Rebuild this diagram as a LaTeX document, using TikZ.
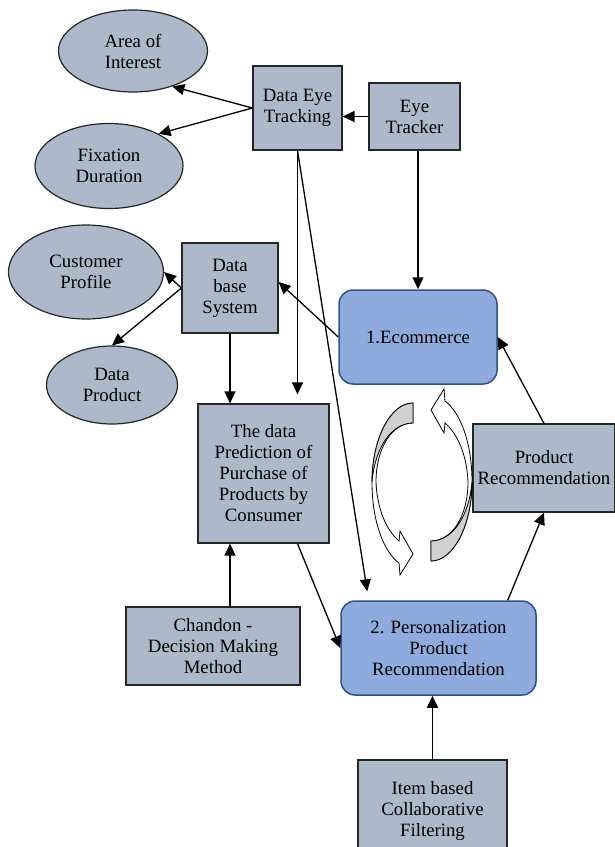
\documentclass[tikz,border=0pt]{standalone}
\usepackage{fontspec}
\setmainfont{Liberation Serif}
\usetikzlibrary{shapes.geometric,arrows.meta}

\definecolor{slate}{RGB}{173,185,202}
\definecolor{cornflower}{RGB}{143,170,220}
\definecolor{navyline}{RGB}{47,82,143}
\definecolor{ribbon}{RGB}{208,208,208}

\begin{document}
\begin{tikzpicture} [x=1pt, y=-1pt, line width=1.2pt,
        every node/.style={font=\fontsize{18.8}{21}\selectfont, align=center, inner sep=0pt},
        box/.style={shape=rectangle, draw=black!85, fill=slate},
        oval/.style={shape=ellipse, draw=black!85, fill=slate},
        bluebox/.style={shape=rectangle, rounded corners=14pt, draw=navyline, fill=cornflower, line width=1.5pt},
        arr/.style={-{Triangle[length=12pt, width=11pt]}, line width=1.3pt}]
        \useasboundingbox (0, 0) rectangle (614, 847);
        \node [oval, minimum width=149pt, minimum height=82pt] (interest) at (133, 51) {Area of\\Interest};
        \node [oval, minimum width=148pt, minimum height=85pt] (fixation) at (109, 166) {Fixation\\Duration};
        \node [oval, minimum width=155pt, minimum height=94pt] (profile) at (86, 272) {Customer\\Profile};
        \node [oval, minimum width=131pt, minimum height=78pt] (dproduct) at (112, 385) {Data\\Product};
        \node [box, minimum width=89pt, minimum height=84pt] (eyedata) at (297.5, 108) {Data Eye\\Tracking};
        \node [box, minimum width=91pt, minimum height=67pt] (tracker) at (414.5, 116.5) {Eye\\Tracker};
        \node [box, minimum width=96pt, minimum height=90pt] (dbase) at (230, 288) {Data\\base\\System};
        \node [bluebox, minimum width=158pt, minimum height=94pt] (ecom) at (418, 337) {1.Ecommerce};
        \node [box, minimum width=131pt, minimum height=139pt] (predict) at (263.5, 473.5) {The data\\Prediction of\\Purchase of\\Products by\\Consumer};
        \node [box, minimum width=142pt, minimum height=88pt] (prodrec) at (544, 468) {Product\\Recommendation};
        \node [box, minimum width=174pt, minimum height=78pt] (chandon) at (213, 646) {Chandon -\\Decision Making\\Method};
        \node [bluebox, minimum width=195pt, minimum height=94pt] (perso) at (438.5, 648) {2. Personalization\\Product\\Recommendation};
        \node [box, minimum width=149pt, minimum height=102pt] (itembased) at (432.5, 811) {Item based\\Collaborative\\Filtering};
        \draw [arr] (tracker.west) -- (tracker.west -| eyedata.east);
        \draw [arr] (eyedata.west) -- (interest.-42);
        \draw [arr] (eyedata.west) -- (fixation.33);
        \draw [arr] (eyedata.south) -- ([yshift=9pt]eyedata.south |- predict.north);
        \draw [arr] (eyedata.south) -- ([shift={(27pt,9pt)}]perso.north west);
        \draw [arr] (tracker.south -| ecom.north) -- (ecom.north);
        \draw [arr] (ecom.west) -- ([yshift=6pt]dbase.east);
        \draw [arr] (dbase.west) -- (profile.east);
        \draw [arr] (dbase.west) -- (dproduct.north);
        \draw [arr] (dbase.south) -- (predict.north -| dbase.south);
        \draw [arr] (chandon.north -| dbase.south) -- (predict.south -| dbase.south);
        \draw [arr] ([xshift=34pt]predict.south) -- (perso.west);
        \draw [arr] ([xshift=-29pt]perso.north east) -- (prodrec.south);
        \draw [arr] (prodrec.north) -- (ecom.east);
        \draw [arr] (itembased.north) -- (itembased.north |- perso.south);
        \foreach \turn in {0,180}
        {
            \begin{scope} [rotate around={\turn:(422, 482)}, line width=0.8pt]
                \filldraw [fill=white] (413, 403) .. controls (390, 403) and (372, 440) .. (372, 482)
                    .. controls (372, 522) and (384, 552) .. (399, 563) -- (400, 575) -- (413, 554) -- (400, 531) -- (399, 541)
                    .. controls (386, 530) and (377, 508) .. (376, 482) .. controls (376, 448) and (392, 423) .. (413, 423) -- cycle;
                \filldraw [fill=ribbon] (413, 403) .. controls (390, 403) and (372, 440) .. (372, 482)
                    .. controls (375, 447) and (392, 423) .. (413, 423) -- cycle;
            \end{scope}
        }
    \end{tikzpicture}
\end{document}
